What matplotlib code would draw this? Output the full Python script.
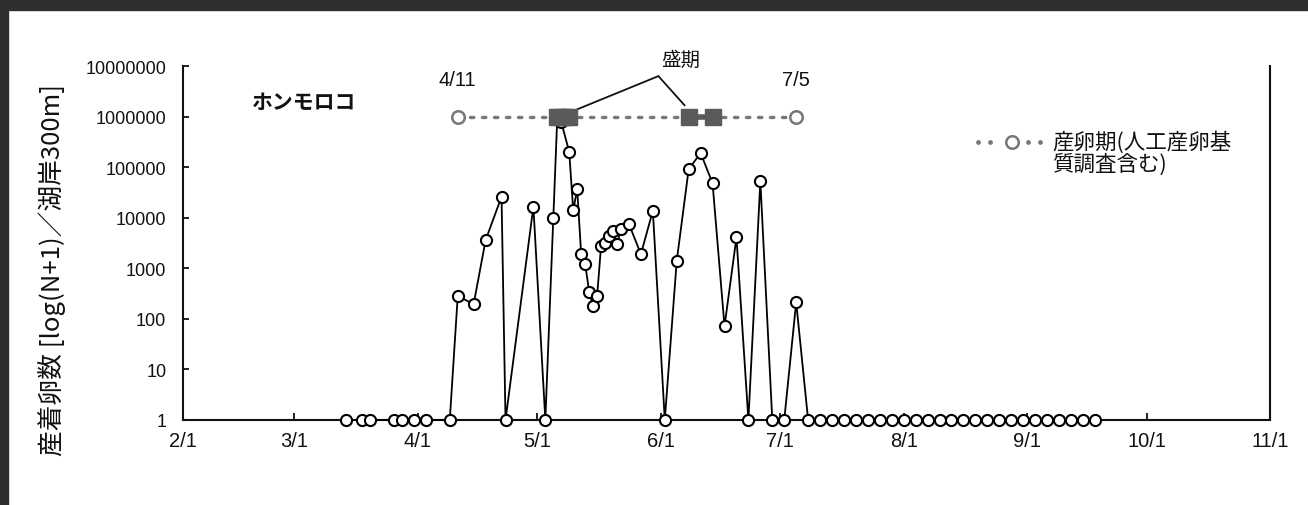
import matplotlib
matplotlib.use("Agg")
import matplotlib.pyplot as plt
import matplotlib.dates as mdates
from matplotlib.patches import Rectangle
from matplotlib.ticker import FixedLocator, FixedFormatter, NullLocator
from datetime import datetime

YEAR = 2009

# ---- data ----
survey_dates = [
    "03-14", "03-18", "03-20", "03-26", "03-28", "03-31", "04-03", "04-09",
    "04-11", "04-15", "04-18", "04-22", "04-23", "04-30", "05-03", "05-05",
    "05-06", "05-07", "05-09", "05-10", "05-11", "05-12", "05-13", "05-14",
    "05-15", "05-16", "05-17", "05-18", "05-19", "05-20", "05-21", "05-22",
    "05-24", "05-27", "05-30", "06-02", "06-05", "06-08", "06-11", "06-14",
    "06-17", "06-20", "06-23", "06-26", "06-29", "07-02", "07-05", "07-08",
    "07-11", "07-14", "07-17", "07-20", "07-23", "07-26", "07-29", "08-01",
    "08-04", "08-07", "08-10", "08-13", "08-16", "08-19", "08-22", "08-25",
    "08-28", "08-31", "09-03", "09-06", "09-09", "09-12", "09-15", "09-18",
]
egg_counts = [
    0, 0, 0, 0, 0, 0, 0, 0,
    280, 195, 3600, 26000, 0, 16500, 0, 9700,
    950000, 780000, 200000, 14000, 37000, 1900, 1230, 345,
    175, 277, 2800, 3150, 4300, 5500, 3000, 5900,
    7500, 1900, 13700, 0, 1400, 91000, 190000, 48000,
    70, 4100, 0, 53000, 0, 0, 212, 0,
    0, 0, 0, 0, 0, 0, 0, 0,
    0, 0, 0, 0, 0, 0, 0, 0,
    0, 0, 0, 0, 0, 0, 0, 0,
]
spawn_period = ["04-11", "07-05"]
spawn_period_labels = ["4/11", "7/5"]
peak_dates_1 = ["05-06", "05-07", "05-08", "05-09"]
peak_dates_2 = ["06-08", "06-14"]
spawn_level = 1e6

x_tick_labels = ["2/1", "3/1", "4/1", "5/1", "6/1", "7/1", "8/1", "9/1", "10/1", "11/1"]
y_ticks = [1, 10, 100, 1000, 10000, 100000, 1000000, 10000000]

species = "ホンモロコ"
y_label = "産着卵数 [log(N+1)／湖岸300m]"
peak_label = "盛期"
legend_label = "産卵期(人工産卵基\n質調査含む)"


def d(md):
    m, dd = md.split("-")
    return datetime(YEAR, int(m), int(dd))


def tick_date(lbl):
    m, dd = lbl.split("/")
    return datetime(YEAR, int(m), int(dd))


JP = ["Noto Sans CJK JP", "DejaVu Sans"]
LAT = ["Liberation Sans", "DejaVu Sans"]

W, H = 1308, 506
fig = plt.figure(figsize=(W / 100, H / 100), dpi=100)
fig.patch.set_facecolor("white")
# scanned-page dark border (top and left)
fig.patches.append(Rectangle((0, 1 - 11 / H), 1, 11 / H, transform=fig.transFigure,
                             color="#2f2f2f", zorder=0))
fig.patches.append(Rectangle((0, 0), 8 / W, 1, transform=fig.transFigure,
                             color="#2f2f2f", zorder=0))

ax = fig.add_axes([183 / W, 85 / H, (1270 - 183) / W, (421 - 67) / H])

xs = [d(s) for s in survey_dates]
ys = [n + 1 for n in egg_counts]

ax.set_yscale("log")
ax.set_ylim(1, 1e7)
ax.set_xlim(tick_date("2/1"), tick_date("11/1"))

# main series
ax.plot(xs, ys, color="black", lw=1.3, marker="o", ms=8, mfc="white",
        mec="black", mew=1.5, zorder=3, clip_on=False)

# spawning period line
GRAY = "#777777"
sp = [d(s) for s in spawn_period]
ax.plot(sp, [spawn_level] * 2, color=GRAY, lw=2.4, ls=(0, (1, 2.6)),
        dash_capstyle="round", zorder=4)
ax.plot(sp, [spawn_level] * 2, ls="none", marker="o", ms=9, mfc="white",
        mec=GRAY, mew=1.8, zorder=5)
for s, lbl in zip(sp, spawn_period_labels):
    ax.text(s, 10 ** 6.74, lbl, ha="center", va="center", fontsize=14.5,
            family=LAT, color="#111111")

# peak periods
p1 = [d(s) for s in peak_dates_1]
p2 = [d(s) for s in peak_dates_2]
for p in (p1, p2):
    ax.plot(p, [spawn_level] * len(p), color="#5a5a5a", lw=4, marker="s", ms=11,
            mfc="#5a5a5a", mec="#5a5a5a", zorder=6)

# 盛期 annotation
apex = (mdates.date2num(datetime(YEAR, 5, 31)) + 0.4, 10 ** 6.80)
ax.text(datetime(YEAR, 6, 6), 10 ** 7.13, peak_label, ha="center", va="center",
        fontsize=14, family=JP, color="#111111", clip_on=False)
ax.annotate("", xy=(mdates.date2num(p1[-1]) + 1.9, 10 ** 6.14), xytext=apex,
            arrowprops=dict(arrowstyle="-", color="#111111", lw=1.3,
                            shrinkA=0, shrinkB=0), annotation_clip=False)
ax.annotate("", xy=(mdates.date2num(p2[0]) - 1.0, 10 ** 6.22), xytext=apex,
            arrowprops=dict(arrowstyle="-", color="#111111", lw=1.3,
                            shrinkA=0, shrinkB=0), annotation_clip=False)

# species label
ax.text(0.111, 0.901, species, transform=ax.transAxes, ha="center", va="center",
        fontsize=15, family=JP, fontweight="bold", color="#111111")

# legend (manual)
ly = 0.785
legend_dots_x = [0.7314, 0.7425, 0.7774, 0.7885]
ax.plot(legend_dots_x, [ly] * len(legend_dots_x), transform=ax.transAxes,
        ls="none", marker="o", ms=2.4, mfc=GRAY, mec=GRAY, clip_on=False)
ax.plot([0.7625], [ly], transform=ax.transAxes, ls="none", marker="o", ms=9,
        mfc="white", mec=GRAY, mew=1.8, clip_on=False)
ax.text(0.7995, ly + 0.034, legend_label, transform=ax.transAxes, ha="left",
        va="top", fontsize=15.5, family=JP, color="#111111", linespacing=1.0)

# axes styling
for side in ("left", "bottom", "right"):
    ax.spines[side].set_linewidth(1.5)
    ax.spines[side].set_color("#111111")
ax.spines["top"].set_visible(False)

ax.xaxis.set_major_locator(FixedLocator([mdates.date2num(tick_date(t)) for t in x_tick_labels]))
ax.xaxis.set_major_formatter(FixedFormatter(x_tick_labels))
ax.xaxis.set_minor_locator(NullLocator())
ax.yaxis.set_major_locator(FixedLocator(y_ticks))
ax.yaxis.set_major_formatter(FixedFormatter([str(v) for v in y_ticks]))
ax.yaxis.set_minor_locator(NullLocator())

ax.tick_params(axis="x", direction="in", length=5, width=1.3, pad=8,
               labelsize=14.5, colors="#111111")
ax.tick_params(axis="y", direction="in", length=4, width=1.3, pad=12,
               labelsize=13, colors="#111111", right=False)
for lbl in ax.get_xticklabels():
    lbl.set_family(LAT)
for lbl in ax.get_yticklabels():
    lbl.set_family(LAT)

ax.set_ylabel(y_label, fontsize=18.5, family=JP, va="center", color="#111111")
ax.yaxis.set_label_coords((52 - 183) / (1270 - 183), (421 - 270) / (421 - 67))

fig.savefig("out.png", dpi=100, facecolor="white")
